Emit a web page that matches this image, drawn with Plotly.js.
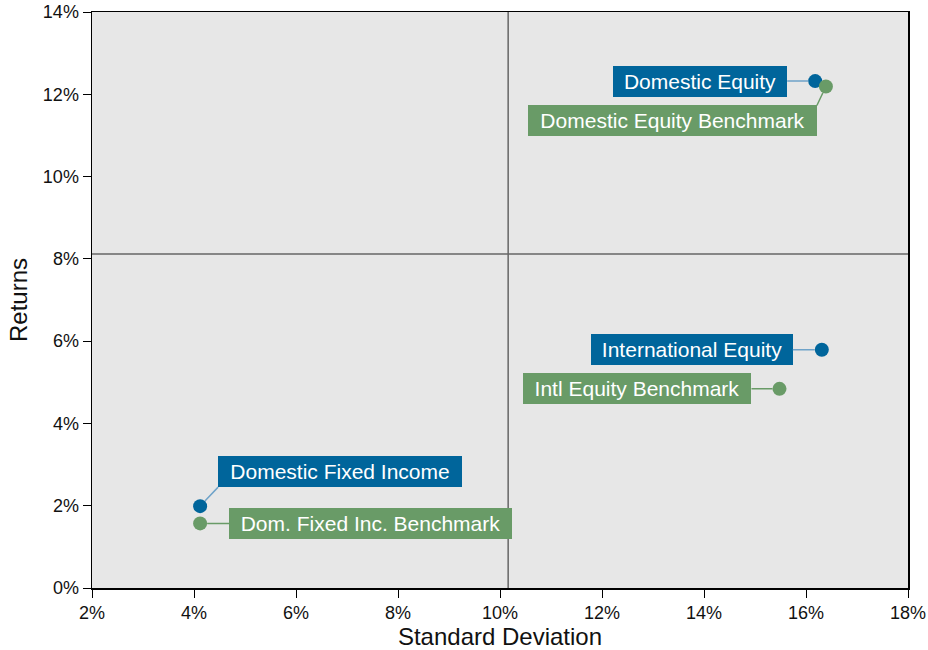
<!DOCTYPE html>
<html>
<head>
<meta charset="utf-8">
<script src="https://cdn.plot.ly/plotly-3.0.1.min.js"></script>
<style>html,body{margin:0;padding:0;background:#fff;}#chart{width:928px;height:650px;}</style>
</head>
<body>
<div id="chart"></div>
<script>
// ---- data ----
var names = ["Domestic Equity", "Domestic Equity Benchmark", "International Equity", "Intl Equity Benchmark", "Domestic Fixed Income", "Dom. Fixed Inc. Benchmark"];
var stdDev = [16.18, 16.39, 16.31, 15.48, 4.12, 4.12];
var returns = [12.32, 12.19, 5.79, 4.84, 1.99, 1.57];
var isBenchmark = [false, true, false, true, false, true];
var avgStdDev = 10.16;
var avgReturn = 8.12;
var xTickVals = [2, 4, 6, 8, 10, 12, 14, 16, 18];
var yTickVals = [0, 2, 4, 6, 8, 10, 12, 14];

// ---- styles ----
var BLUE = "#00659b", GREEN = "#699b67";
var BLUE_LINE = "#6fa3c9", GREEN_LINE = "#699b67";
var FONT = "Liberation Sans, Arial, sans-serif";
// label placement (pixels, per label)
var labelStyle = [
  {ax: -28, ay: 0, xanchor: "right", yanchor: "middle", width: 174},
  {ax: -9, ay: 19, xanchor: "right", yanchor: "top", width: 289},
  {ax: -29, ay: 0, xanchor: "right", yanchor: "middle", width: 202},
  {ax: -28, ay: 0, xanchor: "right", yanchor: "middle", width: 228},
  {ax: 18, ay: -19, xanchor: "left", yanchor: "bottom", width: 244},
  {ax: 29, ay: 0, xanchor: "left", yanchor: "middle", width: 283}
];

var colors = isBenchmark.map(function(b){ return b ? GREEN : BLUE; });

var trace = {
  type: "scatter", mode: "markers",
  x: stdDev, y: returns, text: names,
  marker: {size: 14, color: colors},
  hoverinfo: "text", showlegend: false, cliponaxis: false
};

var annotations = names.map(function(n, i){
  var s = labelStyle[i];
  return {
    x: stdDev[i], y: returns[i], xref: "x", yref: "y",
    text: n, showarrow: true, arrowhead: 0, arrowwidth: 1.5,
    arrowcolor: isBenchmark[i] ? GREEN_LINE : BLUE_LINE,
    standoff: 7, ax: s.ax, ay: s.ay, xanchor: s.xanchor, yanchor: s.yanchor,
    width: s.width, height: 31, align: "center", valign: "middle",
    bgcolor: colors[i], borderpad: 0, borderwidth: 0,
    font: {family: FONT, size: 21, color: "#ffffff"}
  };
});

var layout = {
  width: 928, height: 650,
  margin: {l: 92, r: 20, t: 12, b: 62},
  paper_bgcolor: "#ffffff", plot_bgcolor: "#e7e7e7",
  font: {family: FONT, color: "#111"},
  xaxis: {
    range: [2, 18], tickvals: xTickVals, ticktext: xTickVals.map(function(v){return v + "%";}),
    showgrid: false, zeroline: false, showline: true, linecolor: "#000", linewidth: 1.5, mirror: true,
    ticks: "outside", ticklen: 8, tickcolor: "#000", tickwidth: 1,
    tickfont: {family: FONT, size: 18, color: "#111"},
    title: {text: "Standard Deviation", font: {family: FONT, size: 24, color: "#111"}, standoff: 5}
  },
  yaxis: {
    range: [0, 14], tickvals: yTickVals, ticktext: yTickVals.map(function(v){return v + "%";}),
    showgrid: false, zeroline: false, showline: true, linecolor: "#000", linewidth: 1.5, mirror: true,
    ticks: "outside", ticklen: 8, tickcolor: "#000", tickwidth: 1,
    tickfont: {family: FONT, size: 18, color: "#111"},
    title: {text: "Returns", font: {family: FONT, size: 24, color: "#111"}, standoff: 8}
  },
  shapes: [
    {type: "line", xref: "x", yref: "paper", x0: avgStdDev, x1: avgStdDev, y0: 0, y1: 1, line: {color: "#666", width: 1.5}, layer: "below"},
    {type: "line", xref: "paper", yref: "y", x0: 0, x1: 1, y0: avgReturn, y1: avgReturn, line: {color: "#666", width: 1.5}, layer: "below"}
  ],
  annotations: annotations
};

Plotly.newPlot("chart", [trace], layout, {displayModeBar: false, staticPlot: true});
</script>
</body>
</html>
